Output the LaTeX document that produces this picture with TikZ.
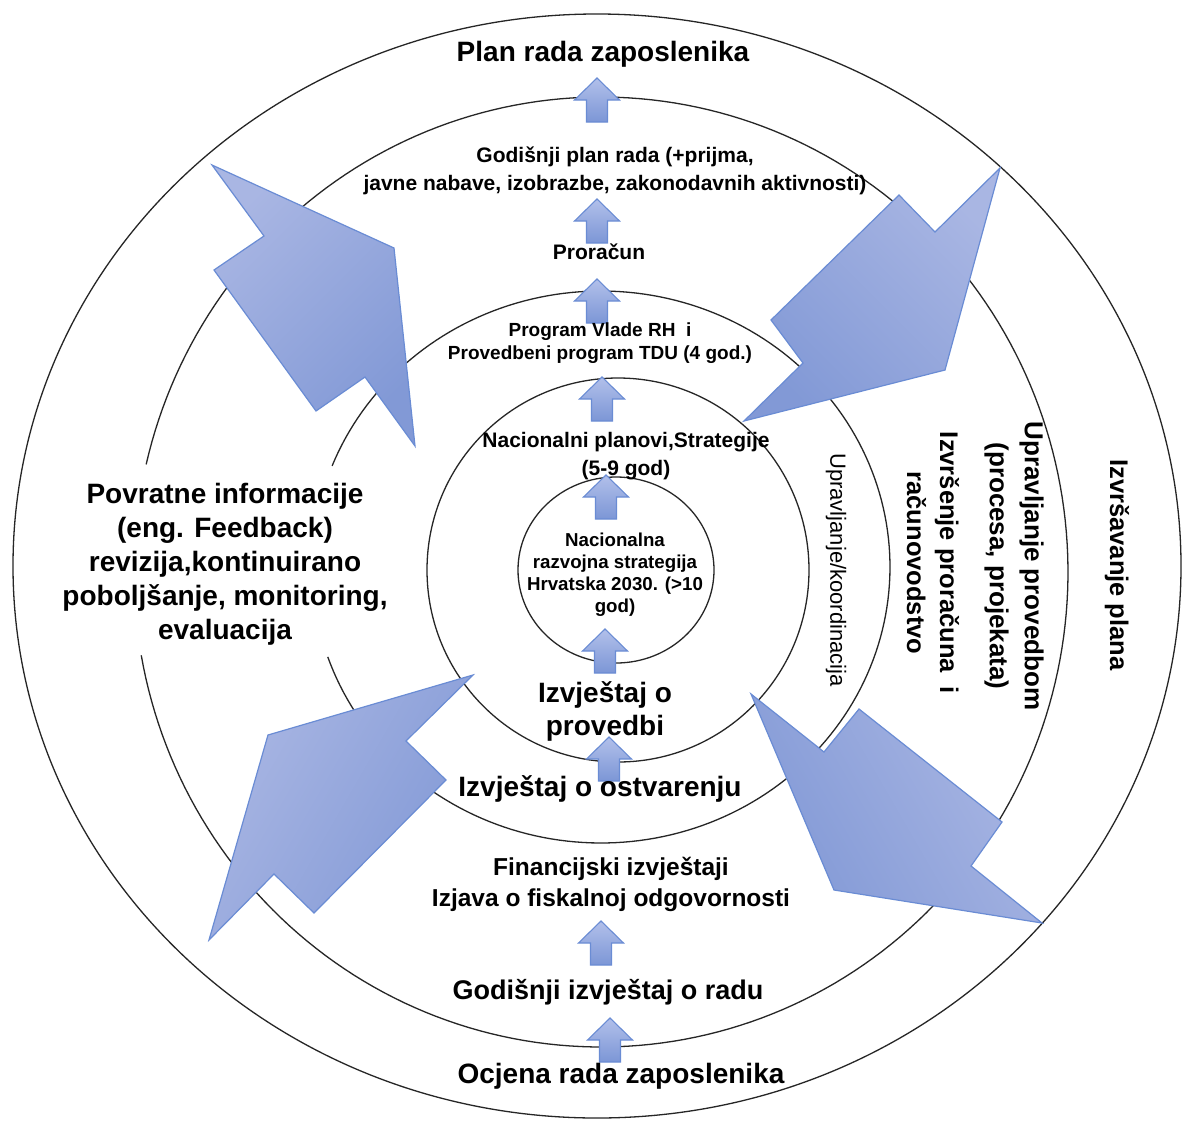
\documentclass[tikz,border=0pt]{standalone}
\usepackage{fontspec}
\setmainfont{Liberation Sans}

\definecolor{ringline}{HTML}{262626}
\definecolor{arrlight}{HTML}{A9B6E3}
\definecolor{arrdark}{HTML}{8299D6}
\definecolor{arredge}{HTML}{6A8CD4}
\definecolor{tiplight}{HTML}{B2C0EA}
\definecolor{tipdark}{HTML}{7C96D6}

\tikzset{
  ring/.style={draw=ringline, line width=1.3pt},
  bigarrow/.style={draw=arredge, line width=1.2pt, line join=miter,
    top color=arrlight, bottom color=arrdark},
  stepup/.pic={
    \path[draw=arredge, line width=1.1pt, top color=tiplight, bottom color=tipdark]
      (0,0) -- (22.5,22) -- (10.5,22) -- (10.5,44) -- (-10.5,44)
      -- (-10.5,22) -- (-22.5,22) -- cycle;
  },
  txt/.style={align=center, inner sep=0pt, text=black},
  bigbold/.style={txt, font=\fontsize{28}{34}\selectfont\bfseries},
  vbold/.style={txt, rotate=-90, font=\fontsize{25.5}{33}\selectfont\bfseries},
}

\begin{document}
\begin{tikzpicture}[x=1pt, y=-1pt]
  % canvas
  \fill[white] (0,0) rectangle (1183,1122);
  \useasboundingbox (0,0) rectangle (1183,1122);

  % concentric rings
  \draw[ring] (597,566) ellipse [x radius=584pt, y radius=552pt];
  \draw[ring] plot[domain=193.1:529.9, samples=240]
    ({601+467*cos(\x)}, {572+475*sin(\x)});
  \draw[ring] plot[domain=201.5:521, samples=200]
    ({601+289*cos(\x)}, {567+276*sin(\x)});
  \draw[ring] (618,570) ellipse [x radius=191pt, y radius=192pt];
  \draw[ring] (616,570) ellipse [x radius=98pt, y radius=93pt];

  % four large cycle arrows
  \path[bigarrow, shading angle=45]
    (212,165) -- (394,248) -- (415,446) -- (365,377) -- (316,411)
    -- (214,270) -- (264,236) -- cycle;
  \path[bigarrow, shading angle=-45]
    (1000,168) -- (945,370) -- (744,421) -- (803,363) -- (771,320)
    -- (899,195) -- (935,232) -- cycle;
  \path[bigarrow, shading angle=60]
    (473,675) -- (406,741) -- (446,780) -- (314,913) -- (274,874)
    -- (209,940) -- (268,735) -- cycle;
  \path[bigarrow, shading angle=-60]
    (751,694) -- (824,752) -- (859,709) -- (1002,822) -- (971,866)
    -- (1042,923) -- (834,890) -- cycle;

  % small upward arrows between the levels
  \pic (s1) at (597,78) {stepup};
  \pic (s2) at (597,199) {stepup};
  \pic (s3) at (597,279) {stepup};
  \pic (s4) at (602,377) {stepup};
  \pic (s5) at (606,475) {stepup};
  \pic (s6) at (605,629) {stepup};
  \pic (s7) at (609,737) {stepup};
  \pic (s8) at (601,921) {stepup};
  \pic (s9) at (610,1018) {stepup};

  % labels
  \node[bigbold] (plan) at (603,54) {Plan rada zaposlenika};
  \node[txt, font=\fontsize{21}{28}\selectfont\bfseries] (godplan) at (615,171)
    {Godišnji plan rada (+prijma,\\javne nabave, izobrazbe, zakonodavnih aktivnosti)};
  \node[txt, font=\fontsize{21}{26}\selectfont\bfseries] (proracun) at (599,252) {Proračun};
  \node[txt, font=\fontsize{19}{23}\selectfont\bfseries] (program) at (600,343)
    {Program Vlade RH\ \ i\\Provedbeni program TDU (4 god.)};
  \node[txt, font=\fontsize{21}{28}\selectfont\bfseries] (nacplan) at (626,456)
    {Nacionalni planovi,Strategije\\(5-9 god)};
  \node[txt, font=\fontsize{18.7}{22}\selectfont\bfseries] (nacstrat) at (615,575)
    {Nacionalna\\razvojna strategija\\Hrvatska 2030. (>10\\god)};
  \node[bigbold] (feedback) at (225,564)
    {Povratne informacije\\(eng. Feedback)\\revizija,kontinuirano\\poboljšanje, monitoring,\\evaluacija};
  \node[txt, font=\fontsize{28}{33}\selectfont\bfseries] (provedba) at (605,711)
    {Izvještaj o\\provedbi};
  \node[bigbold] (ostvar) at (600,789) {Izvještaj o ostvarenju};
  \node[txt, font=\fontsize{24.5}{31}\selectfont\bfseries] (financ) at (611,884)
    {Financijski izvještaji\\Izjava o fiskalnoj odgovornosti};
  \node[txt, font=\fontsize{27}{33}\selectfont\bfseries] (godizv) at (608,992)
    {Godišnji izvještaj o radu};
  \node[bigbold] (ocjena) at (621,1076) {Ocjena rada zaposlenika};

  % vertical labels on the right
  \node[txt, rotate=-90, font=\fontsize{22}{26}\selectfont] (koord) at (836,570)
    {Upravljanje/koordinacija};
  \node[vbold] (izvrsenje) at (933,563)
    {Izvršenje proračuna\ \ i\\računovodstvo};
  \node[vbold, font=\fontsize{26}{35}\selectfont\bfseries] (upravprov) at (1014,566)
    {Upravljanje provedbom\\(procesa, projekata)};
  \node[vbold] (izvrsav) at (1117,565) {Izvršavanje plana};
\end{tikzpicture}
\end{document}
